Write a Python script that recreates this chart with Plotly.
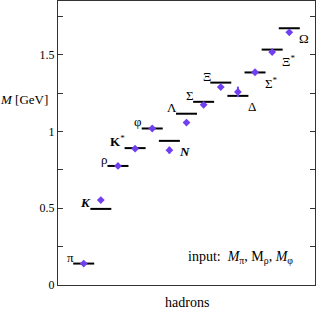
import plotly.graph_objects as go

# ---- data ----
hadrons = ["π", "K", "ρ", "K*", "φ", "N", "Λ", "Σ", "Ξ", "Δ", "Σ*", "Ξ*", "Ω"]
label_html = ["π", "<b><i>K</i></b>", "ρ", "<b>K</b><sup>*</sup>", "φ", "<b><i>N</i></b>",
              "Λ", "Σ", "Ξ", "Δ", "Σ<sup>*</sup>", "Ξ<sup>*</sup>", "Ω"]
label_side = ["left", "left", "left", "left", "left", "right",
              "left", "left", "left", "right", "right", "right", "right"]
experiment = [0.1396, 0.4957, 0.7755, 0.8917, 1.0195, 0.9389, 1.1157, 1.1932, 1.3183,
              1.2320, 1.3846, 1.5334, 1.6725]
lattice = [0.1396, 0.553, 0.7755, 0.888, 1.0195, 0.878, 1.058, 1.174, 1.289,
           1.258, 1.386, 1.517, 1.646]
lattice_err = [0.0, 0.006, 0.0, 0.010, 0.0, 0.022, 0.013, 0.011, 0.011,
               0.034, 0.016, 0.011, 0.011]
ytick_vals = [0, 0.5, 1.0, 1.5]
ytick_text = ["0", "0.5", "1", "1.5"]

xs = list(range(len(hadrons)))
SERIF = "Liberation Serif, Times New Roman, serif"
PURPLE = "#7040f0"

fig = go.Figure()
fig.add_trace(go.Scatter(
    x=xs, y=experiment, mode="markers",
    marker=dict(symbol="line-ew", size=15, line=dict(width=2, color="black")),
    hoverinfo="skip", showlegend=False))
fig.add_trace(go.Scatter(
    x=xs, y=lattice, mode="markers",
    marker=dict(symbol="diamond", size=6, color=PURPLE),
    error_y=dict(type="data", array=lattice_err, color=PURPLE, thickness=2, width=0),
    showlegend=False))

for x, y, txt, side in zip(xs, experiment, label_html, label_side):
    if side == "left":
        fig.add_annotation(x=x, y=y, text=txt, showarrow=False,
                           xanchor="right", yanchor="bottom", xshift=-8, yshift=-3,
                           font=dict(family=SERIF, size=13, color="black"))
    else:
        fig.add_annotation(x=x, y=y, text=txt, showarrow=False,
                           xanchor="left", yanchor="top", xshift=8, yshift=-1,
                           font=dict(family=SERIF, size=13, color="black"))

fig.add_annotation(xref="paper", yref="paper", x=0.497, y=0.097, xanchor="left",
                   yanchor="middle", showarrow=False,
                   text="input:  <i>M</i><sub>π</sub>, M<sub>ρ</sub>, <i>M</i><sub>φ</sub>",
                   font=dict(family=SERIF, size=14, color="black"))
fig.add_annotation(xref="paper", yref="y", x=-0.03, y=1.207, xanchor="right",
                   yanchor="middle", showarrow=False, text="<i>M</i> [GeV]",
                   font=dict(family=SERIF, size=13, color="black"))
fig.add_annotation(xref="paper", yref="paper", x=0.5, y=-0.062, xanchor="center",
                   yanchor="middle", showarrow=False, text="hadrons",
                   font=dict(family=SERIF, size=14, color="black"))

fig.update_layout(
    width=327, height=334,
    margin=dict(l=58, r=12, t=1, b=49),
    paper_bgcolor="white", plot_bgcolor="white",
    font=dict(family=SERIF, size=12, color="black"),
    xaxis=dict(range=[-1.5, 13.5], showticklabels=False, ticks="", showgrid=False,
               zeroline=False, showline=True, mirror=True, linecolor="#333", linewidth=1),
    yaxis=dict(range=[0, 1.85], tickvals=ytick_vals, ticktext=ytick_text,
               ticks="inside", ticklen=5, tickcolor="#333", showgrid=False,
               minor=dict(dtick=0.25, tick0=0, ticks="inside", ticklen=5,
                          tickcolor="#333", showgrid=False),
               zeroline=False, showline=True, mirror="ticks", linecolor="#333",
               linewidth=1, tickfont=dict(family=SERIF, size=12, color="black")),
)

fig.write_html("out.html", config={"displayModeBar": False},
               post_script="document.body.style.margin='0';document.body.style.padding='0';")
